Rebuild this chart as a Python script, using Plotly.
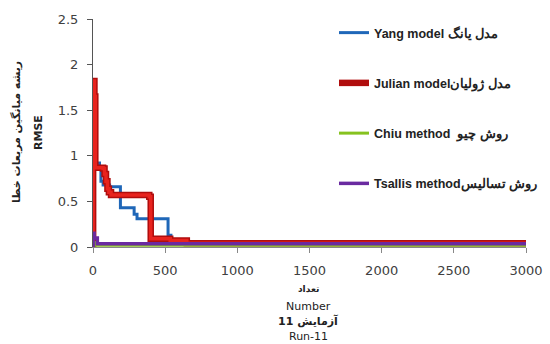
import plotly.graph_objects as go

# ---- data ----
yang_x = [5, 45, 55, 70, 115, 190, 285, 305, 520, 540, 580, 3000]
yang_y = [0.92, 0.85, 0.72, 0.68, 0.66, 0.43, 0.36, 0.31, 0.13, 0.06, 0.03, 0.03]

julian_x = [0, 1, 10, 16, 70, 80, 90, 100, 110, 125, 300, 390, 400, 535, 650, 3000]
julian_y = [0, 1.82, 1.65, 0.87, 0.86, 0.8, 0.72, 0.64, 0.6, 0.57, 0.57, 0.55, 0.09, 0.07, 0.04, 0.03]

chiu_x = [0, 20, 3000]
chiu_y = [0.05, 0.02, 0.02]

tsallis_x = [0, 1, 8, 30, 3000]
tsallis_y = [0, 0.15, 0.1, 0.035, 0.028]

names = ["Yang model مدل یانگ", "Julian modelمدل ژولیان", "Chiu method  روش چیو", "Tsallis methodروش تسالیس"]
x_ticks = [0, 500, 1000, 1500, 2000, 2500, 3000]
y_ticks = [0, 0.5, 1, 1.5, 2, 2.5]

# ---- layout geometry (pixels) ----
W, H = 550, 344
L, R, T, B = 93, 526, 19, 247
def px(x):
    return (x - L) / (R - L)
def py(y):
    return (B - y) / (B - T)

fig = go.Figure()
fig.add_trace(go.Scatter(x=yang_x, y=yang_y, mode="lines", line=dict(color="#1f67b8", width=3, shape="hv"),
                         name="<b>" + names[0] + "</b>", legendgroup="a"))
fig.add_trace(go.Scatter(x=julian_x, y=julian_y, mode="lines", line=dict(color="#b00d0d", width=6.5, shape="hv"),
                         name="<b>" + names[1] + "</b>", legendgroup="b"))
fig.add_trace(go.Scatter(x=julian_x, y=julian_y, mode="lines", line=dict(color="#e8231e", width=3.5, shape="hv"),
                         name=names[1], legendgroup="b", showlegend=False))
fig.add_trace(go.Scatter(x=chiu_x, y=chiu_y, mode="lines", line=dict(color="#86c21f", width=3, shape="hv"),
                         name="<b>" + names[2] + "</b>", legendgroup="c"))
fig.add_trace(go.Scatter(x=tsallis_x, y=tsallis_y, mode="lines", line=dict(color="#6a2aa0", width=3.5, shape="hv"),
                         name="<b>" + names[3] + "</b>", legendgroup="d"))

axis_font = dict(family="DejaVu Sans", size=13, color="#404040")
fig.update_xaxes(range=[0, 3000], tickvals=x_ticks, ticks="outside", ticklen=5, tickcolor="#888",
                 showline=True, linecolor="#888", linewidth=1, showgrid=False, zeroline=False,
                 tickfont=axis_font, ticklabelstandoff=6, automargin=False)
fig.update_yaxes(range=[0, 2.5], tickvals=y_ticks, ticktext=["0", "0.5", "1", "1.5", "2", "2.5"],
                 ticks="outside", ticklen=5, tickcolor="#555",
                 showline=True, linecolor="#555", linewidth=1, showgrid=False, zeroline=False,
                 tickfont=axis_font, ticklabelstandoff=6, automargin=False)

ann = []
ann.append(dict(text="<b>ریشه میانگین مربعات خطا</b>", x=px(16), y=py(132), textangle=-90,
                font=dict(family="DejaVu Sans", size=11, color="#222")))
ann.append(dict(text="<b>RMSE</b>", x=px(38), y=py(132), textangle=-90,
                font=dict(family="DejaVu Sans", size=11, color="#222")))
ann.append(dict(text="<b>تعداد</b>", x=px(308), y=py(289), font=dict(family="DejaVu Sans", size=9, color="#222")))
ann.append(dict(text="Number", x=px(308), y=py(306), font=dict(family="DejaVu Sans", size=11, color="#222")))
ann.append(dict(text="<b>آزمایش 11</b>", x=px(308), y=py(321), font=dict(family="DejaVu Sans", size=11, color="#222")))
ann.append(dict(text="Run-11", x=px(308), y=py(336), font=dict(family="DejaVu Sans", size=11, color="#222")))
for a in ann:
    a.update(xref="paper", yref="paper", showarrow=False, xanchor="center", yanchor="middle")

fig.update_layout(
    width=W, height=H, autosize=False,
    margin=dict(l=L, r=W - R, t=T, b=H - B, pad=0, autoexpand=False),
    paper_bgcolor="white", plot_bgcolor="white",
    annotations=ann,
    legend=dict(x=px(334), y=py(18), xanchor="left", yanchor="top", tracegroupgap=31,
                traceorder="grouped", bgcolor="rgba(0,0,0,0)", maxheight=400,
                font=dict(family="Liberation Sans", size=12.5, color="#222")),
)
fig.write_html("out.html")
